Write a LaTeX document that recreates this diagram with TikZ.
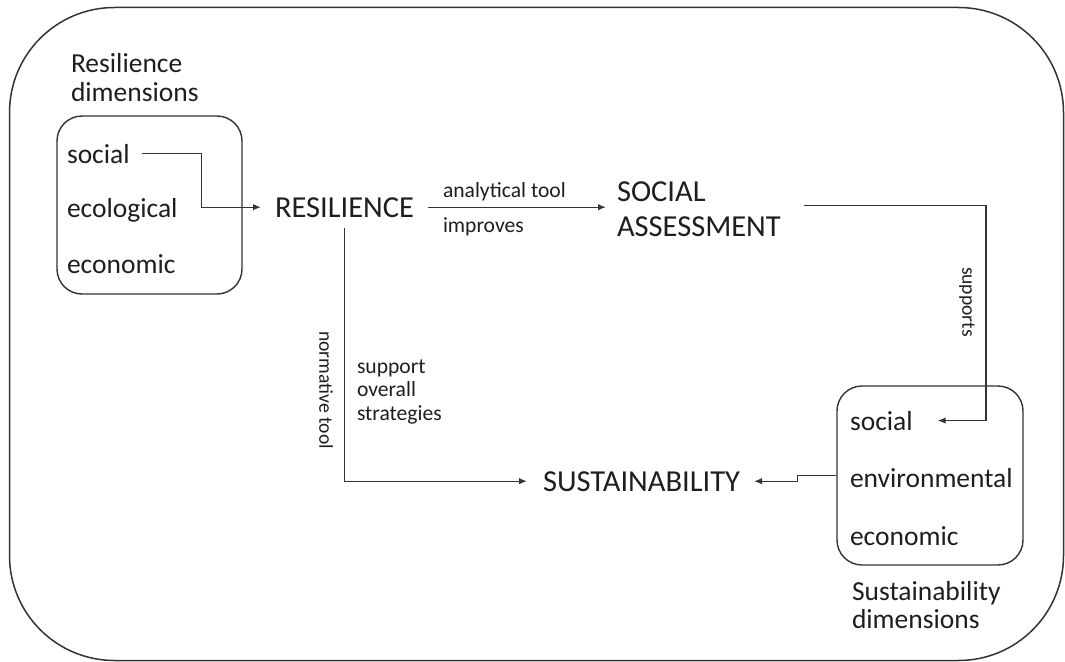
\documentclass[tikz,border=0pt]{standalone}
\usepackage{fontspec}
\setmainfont{Carlito}
\usetikzlibrary{arrows.meta}
\definecolor{linec}{HTML}{333333}
\definecolor{txtc}{HTML}{1E1E1E}
\tikzset{
  txt/.style={inner sep=0pt, outer sep=0pt, anchor=base west, text=txtc},
  item/.style={txt, font=\fontsize{27.5}{29}\selectfont},
  big/.style={txt, font=\fontsize{30.5}{35}\selectfont, align=left},
  small/.style={txt, font=\fontsize{21.6}{23.5}\selectfont, align=left},
  vlabel/.style={txt, anchor=center, rotate=-90, font=\fontsize{19.6}{22}\selectfont},
  conn/.style={draw=linec, line width=1.4pt},
  arr/.style={conn, -{Latex[length=8pt,width=6.5pt]}},
  dimbox/.style={draw=linec, line width=1.4pt, rounded corners=25pt, inner sep=0pt},
}
\begin{document}
\begin{tikzpicture}[x=1pt,y=-1pt]
\useasboundingbox (0,0) rectangle (1065,661);
% outer frame
\draw[draw=linec, line width=1.5pt, rounded corners=105pt] (9.5,7.5) rectangle (1063.5,660.5);

% left dimension box
\node[dimbox, minimum width=185pt, minimum height=178pt] (lbox) at (149.5,205) {};
\node[item] (rdim) at (71,72.7) {Resilience};
\node[item] (rdim2) at (71,101.7) {dimensions};
\node[item] (lsoc) at (67,163) {social};
\node[item] (leco) at (67,217) {ecological};
\node[item] (lecn) at (67,273) {economic};

% main concepts
\node[big] (res) at (275,217) {RESILIENCE};
\node[big, anchor=north west] (sa) at (617,182) {SOCIAL\\ASSESSMENT};
\node[big] (sust) at (543,491) {SUSTAINABILITY};

% right dimension box
\node[dimbox, minimum width=186pt, minimum height=179pt] (rbox) at (930,475.5) {};
\node[item] (rsoc) at (850,430) {social};
\node[item] (renv) at (850,487) {environmental};
\node[item] (recn) at (850,545) {economic};
\node[item] (sdim) at (852,600) {Sustainability};
\node[item] (sdim2) at (852,628) {dimensions};

% labels
\node[small] (lab1) at (443,197) {analytical tool};
\node[small] (lab2) at (443,232) {improves};
\node[small] (lab3) at (357,420) {support\\overall\\strategies};
\node[vlabel] (lab4) at (326,390) {normative tool};
\node[vlabel] (lab5) at (967,302) {supports};

% connectors
\draw[arr] ([xshift=12pt]lsoc.east) -- ++(60,0) |- ([xshift=-14pt]res.west);
\draw[arr, shorten <=14pt, shorten >=11pt] (res.east) -- (sa.west |- res.east);
\draw[arr] ([xshift=23pt,yshift=4pt]sa.east) -- ++(182,0) |- ([xshift=25pt]rsoc.east);
\draw[arr] (rbox.west) -- ++(-39,0) |- ([xshift=14pt]sust.east);
\draw[arr] ([yshift=-11pt]res.south) |- ([xshift=-16pt]sust.west);
\end{tikzpicture}
\end{document}
